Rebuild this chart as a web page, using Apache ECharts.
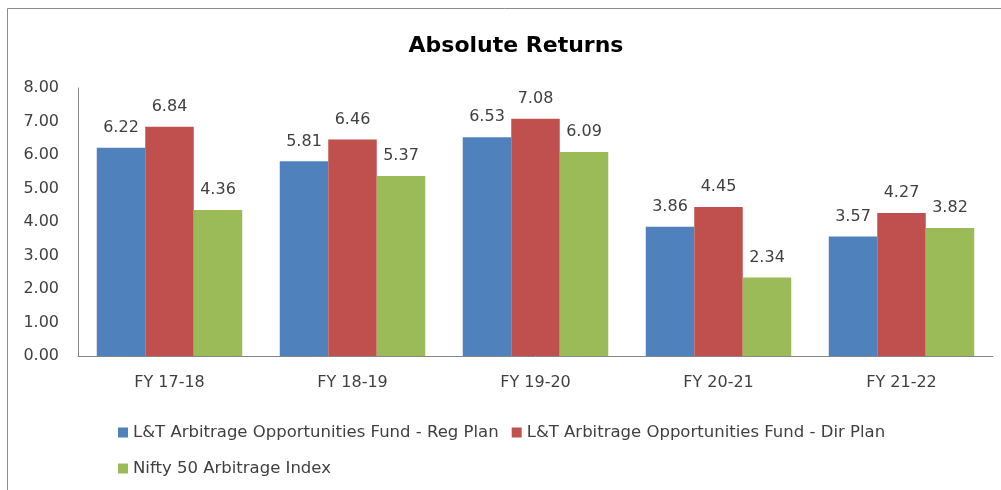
<!DOCTYPE html>
<html>
<head>
<meta charset="utf-8">
<script src="https://cdn.jsdelivr.net/npm/echarts@6/dist/echarts.min.js"></script>
<style>
  html, body { margin: 0; padding: 0; background: #fff; }
  #chart { width: 1001px; height: 490px; }
</style>
</head>
<body>
<div id="chart"></div>
<script>
const categories = ["FY 17-18", "FY 18-19", "FY 19-20", "FY 20-21", "FY 21-22"];
const seriesNames = [
  "L&T Arbitrage Opportunities Fund - Reg Plan",
  "L&T Arbitrage Opportunities Fund - Dir Plan",
  "Nifty 50 Arbitrage Index"
];
const regPlan = [6.22, 5.81, 6.53, 3.86, 3.57];
const dirPlan = [6.84, 6.46, 7.08, 4.45, 4.27];
const niftyIdx = [4.36, 5.37, 6.09, 2.34, 3.82];
const colors = ["#4F81BD", "#C0504D", "#9BBB59"];

const font = "DejaVu Sans";
const textColor = "#404040";

var chart = echarts.init(document.getElementById("chart"));

function barSeries(name, data, color) {
  return {
    name: name,
    type: "bar",
    data: data,
    barWidth: "26.5%",
    barGap: "0%",
    itemStyle: { color: color },
    label: {
      show: true,
      position: "top",
      distance: 12,
      color: textColor,
      fontFamily: font,
      fontSize: 16,
      formatter: (p) => p.value.toFixed(2),
    },
  };
}

// 图例分两行：前两项一行，第三项另起一行
function legendRow(top, names) {
  return {
    left: 113,
    top: top,
    itemWidth: 10,
    itemHeight: 10,
    itemGap: 13,
    icon: "rect",
    textStyle: { fontFamily: font, fontSize: 16.5, color: textColor },
    data: names,
  };
}

var option = {
  animation: false,
  textStyle: { fontFamily: font },
  graphic: [
    {
      type: "rect",
      shape: { x: 7.5, y: 8.5, width: 1000, height: 490 },
      style: { fill: "none", stroke: "#8c8c8c", lineWidth: 1 },
    },
  ],
  title: {
    text: "Absolute Returns",
    left: 511,
    top: 30,
    textAlign: "center",
    textStyle: { fontFamily: font, fontSize: 22, fontWeight: "bold", color: "#000" },
  },
  legend: [
    legendRow(419, seriesNames.slice(0, 2)),
    legendRow(455, seriesNames.slice(2)),
  ],
  grid: { left: 78, right: 8, top: 88, bottom: 134, containLabel: false },
  xAxis: {
    type: "category",
    data: categories,
    axisTick: { show: false },
    axisLine: { lineStyle: { color: "#868686", width: 1 } },
    axisLabel: { color: textColor, fontFamily: font, fontSize: 16, margin: 19 },
  },
  yAxis: {
    type: "value",
    min: 0,
    max: 8,
    interval: 1,
    splitLine: { show: false },
    axisTick: { show: false },
    axisLine: { show: true, lineStyle: { color: "#868686", width: 1 } },
    axisLabel: {
      color: textColor,
      fontFamily: font,
      fontSize: 16,
      margin: 19,
      formatter: (v) => v.toFixed(2),
    },
  },
  series: [
    barSeries(seriesNames[0], regPlan, colors[0]),
    barSeries(seriesNames[1], dirPlan, colors[1]),
    barSeries(seriesNames[2], niftyIdx, colors[2]),
  ],
};

chart.setOption(option);
</script>
</body>
</html>
